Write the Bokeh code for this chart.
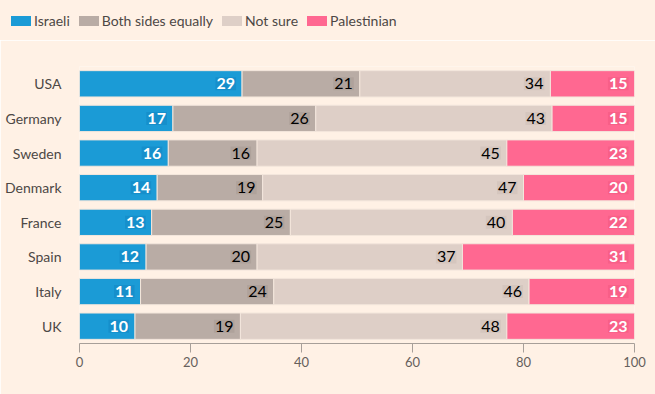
from bokeh.plotting import figure
from bokeh.layouts import column
from bokeh.models import ColumnDataSource, FactorRange, Range1d, FixedTicker, Div
from bokeh.core.properties import value
from bokeh.embed import file_html
from bokeh.resources import INLINE

countries = ["USA", "Germany", "Sweden", "Denmark", "France", "Spain", "Italy", "UK"]
israeli = [29, 17, 16, 14, 13, 12, 11, 10]
both_sides = [21, 26, 16, 19, 25, 20, 24, 19]
not_sure = [34, 43, 45, 47, 40, 37, 46, 48]
palestinian = [15, 15, 23, 20, 22, 31, 19, 23]
series_names = ["Israeli", "Both sides equally", "Not sure", "Palestinian"]
x_ticks = [0, 20, 40, 60, 80, 100]

colors = ["#1b9bd6", "#b9aca5", "#decfc7", "#ff6891"]
halo = ["#168fcb", "#afa29b", "#d5c6be", "#f85f88"]
label_colors = ["#ffffff", "#000000", "#000000", "#ffffff"]
label_styles = ["bold", "normal", "normal", "bold"]
BG = "#fff1e5"
FONT = "Lato"

W = 655
LEG_H = 40
H = 354
TOP, BOTTOM, LEFT, RIGHT = 26, 51, 79, 21

series = [israeli, both_sides, not_sure, palestinian]
totals = [sum(s[i] for s in series) for i in range(len(countries))]

p = figure(width=W, height=H, y_range=FactorRange(*reversed(countries)),
           x_range=Range1d(0, 100), output_backend="svg", toolbar_location=None,
           min_border_left=LEFT, min_border_right=RIGHT, min_border_top=TOP,
           min_border_bottom=BOTTOM)
p.background_fill_color = BG
p.border_fill_color = BG
p.outline_line_color = None
p.grid.visible = False
p.y_range.range_padding = 0

left = [0.0] * len(countries)
for k, s in enumerate(series):
    width = [s[i] / totals[i] * 100 for i in range(len(countries))]
    right = [left[i] + width[i] for i in range(len(countries))]
    src = ColumnDataSource(dict(y=countries, left=list(left), right=right,
                                lab=[str(v) for v in s]))
    p.hbar(y="y", left="left", right="right", height=0.76, source=src,
           fill_color=colors[k], line_color="#f3e6dc", line_width=1)
    p.text(x="right", y="y", text="lab", source=src, x_offset=-6,
           text_align="right", text_baseline="middle",
           text_font=value(FONT), text_font_size="16px",
           text_font_style=label_styles[k],
           text_color=label_colors[k], background_fill_color=halo[k],
           padding=1)
    left = right

# HTML legend row (swatch + label per series)
parts = []
for k, name in enumerate(series_names):
    mr = "9px" if k < len(series_names) - 1 else "0"
    parts.append(
        f'<span style="display:inline-flex;align-items:center;margin-right:{mr}">'
        f'<span style="display:inline-block;width:20px;height:10px;'
        f'background:{colors[k]};margin-right:3px"></span>{name}</span>'
    )
legend_html = (
    f'<div style="display:flex;align-items:center;height:{LEG_H}px;'
    f'box-sizing:border-box;padding:2px 0 0 11px;font-family:{FONT};'
    f'font-size:14px;color:#4d4845;white-space:nowrap">' + "".join(parts) + "</div>"
)
div = Div(text=legend_html, width=W, height=LEG_H,
          styles={"background-color": BG, "margin": "0", "padding": "0"})

p.xaxis.ticker = FixedTicker(ticks=x_ticks)
p.xaxis.axis_line_color = "#a79f99"
p.xaxis.major_tick_line_color = "#a79f99"
p.xaxis.major_tick_in = 0
p.xaxis.major_tick_out = 9
p.xaxis.minor_tick_line_color = None
p.xaxis.major_label_text_font = FONT
p.xaxis.major_label_text_font_size = "13px"
p.xaxis.major_label_text_color = "#66605c"
p.xaxis.major_label_standoff = 4

p.yaxis.axis_line_color = None
p.yaxis.major_tick_line_color = None
p.yaxis.minor_tick_line_color = None
p.yaxis.major_label_text_font = FONT
p.yaxis.major_label_text_font_size = "14px"
p.yaxis.major_label_text_color = "#4d4845"
p.yaxis.major_label_standoff = 12

layout = column(div, p, spacing=0)
open("out.html", "w").write(file_html(layout, INLINE))
